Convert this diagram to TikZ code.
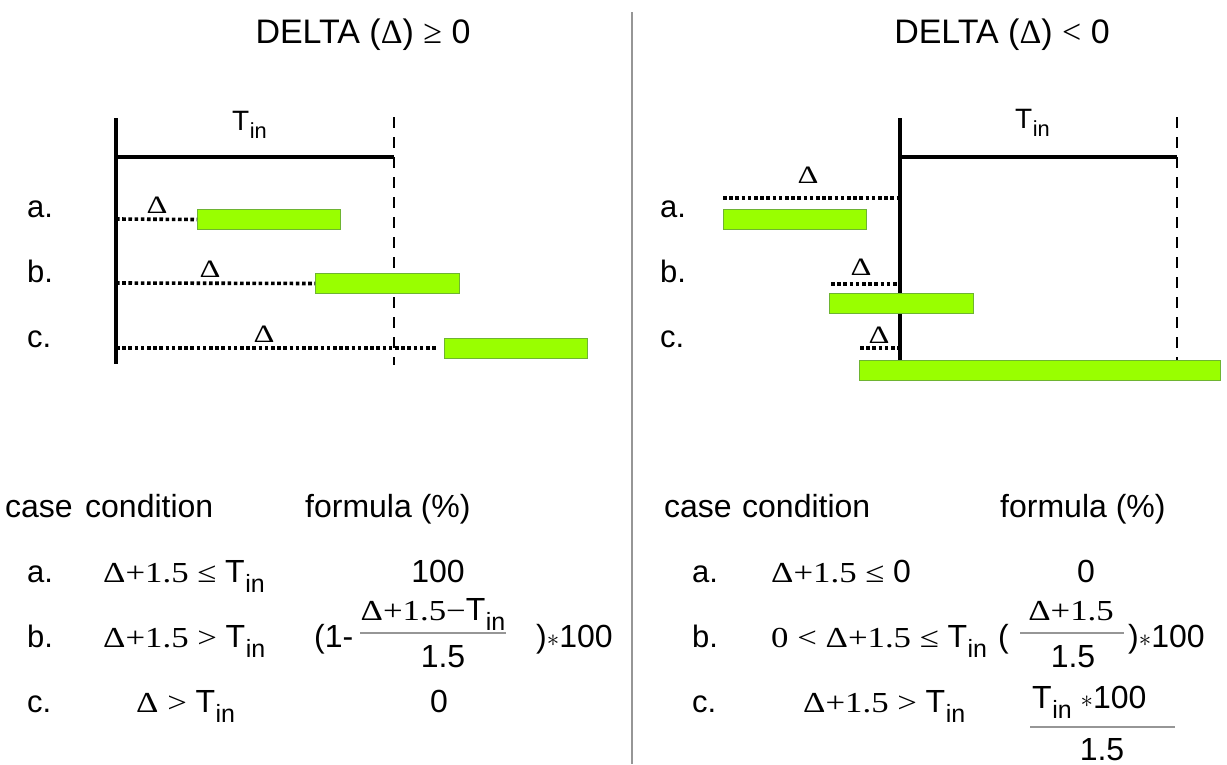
\documentclass[tikz,border=0pt]{standalone}
\usepackage{fontspec}
\setmainfont{Liberation Sans}
\newfontfamily\tms{Liberation Serif}
\newfontfamily\tmw[FakeStretch=1.2]{Liberation Serif}
\newcommand{\Tin}{T\kern0.5pt\raisebox{-0.32em}{\scalebox{0.78}{in}}}
\newcommand{\st}{\raisebox{0.02em}{$\ast$}}
\newcommand{\Dg}{\scalebox{1.3}[1]{Δ}}
\definecolor{barfill}{RGB}{153,255,0}
\definecolor{barline}{RGB}{110,180,50}
\definecolor{sepgray}{RGB}{150,150,150}
\tikzset{
  bar/.style={draw=barline, fill=barfill, line width=1pt, inner sep=0pt, minimum height=20pt, anchor=north west},
  axis/.style={line width=3.2pt},
  tline/.style={line width=3.6pt},
  limit/.style={line width=2.4pt, dash pattern=on 11pt off 9pt},
  dots/.style={line width=3.6pt, dash pattern=on 3.6pt off 2.6pt},
  lbl/.style={anchor=base west, inner sep=0pt, font=\fontsize{31}{36}\selectfont},
  ttl/.style={anchor=base, inner sep=0pt, font=\fontsize{34}{40}\selectfont},
  tinl/.style={anchor=base west, inner sep=0pt, font=\fontsize{28}{34}\selectfont},
  dlt/.style={anchor=base, inner sep=0pt, font=\fontsize{25}{28}\tms},
  hdr/.style={anchor=base west, inner sep=0pt, font=\fontsize{32}{38}\selectfont},
  txt/.style={anchor=base west, inner sep=0pt, font=\fontsize{32}{38}\selectfont},
  ctxt/.style={anchor=base, inner sep=0pt, font=\fontsize{32}{38}\selectfont},
  fbar/.style={line width=1.2pt, draw=sepgray}
}
\begin{document}
\begin{tikzpicture}[x=1pt,y=-1pt]
\useasboundingbox (0,0) rectangle (1227,764);
\fill[white] (0,0) rectangle (1227,764);
% separator
\coordinate (s1) at (632,12); \coordinate (s2) at (632,764);
\draw[sepgray, line width=1.4pt] (s1) -- (s2);
% titles
\node[ttl] (t1) at (363,43) {DELTA ({\tms Δ}) {\tms ≥} 0};
\node[ttl] (t2) at (1002,43) {DELTA ({\tms Δ}) {\tms <} 0};

% ===== left diagram =====
\coordinate (La) at (116,118); \coordinate (Lb) at (116,364);
\coordinate (Lh) at (116,157); \coordinate (Rh) at (394,157);
\coordinate (Da) at (394,117); \coordinate (Db) at (394,365);
\draw[axis] (La) -- (Lb);
\draw[tline] (Lh) -- (Rh);
\draw[limit] (Da) -- (Db);
\node[tinl] (tin1) at (232,130) {\Tin};
\node[lbl] (la) at (27,217) {a.};
\node[lbl] (lb) at (27,282) {b.};
\node[lbl] (lc) at (27,347) {c.};
\node[bar, minimum width=143pt] (ba) at (197,209) {};
\node[bar, minimum width=144pt] (bb) at (315,273) {};
\node[bar, minimum width=143pt] (bc) at (444,338) {};
\coordinate (da0) at (116,219); \coordinate (db0) at (116,283); \coordinate (dc0) at (116,348);
\coordinate (dc1) at (437,348);
\draw[dots] (da0) -- (ba.west);
\draw[dots] (db0) -- (bb.west);
\draw[dots] (dc0) -- (dc1);
\node[dlt] (dla) at (157,213) {\Dg};
\node[dlt] (dlb) at (210,277) {\Dg};
\node[dlt] (dlc) at (264,342) {\Dg};

% ===== right diagram =====
\coordinate (RA) at (900,118); \coordinate (RB) at (900,360);
\coordinate (RHl) at (900,157); \coordinate (RHr) at (1177,157);
\coordinate (RDa) at (1177,117); \coordinate (RDb) at (1177,360);
\draw[axis] (RA) -- (RB);
\draw[tline] (RHl) -- (RHr);
\draw[limit] (RDa) -- (RDb);
\node[tinl] (tin2) at (1015,128) {\Tin};
\node[lbl] (ra) at (660,217) {a.};
\node[lbl] (rb) at (660,282) {b.};
\node[lbl] (rc) at (660,347) {c.};
\node[bar, minimum width=143pt] (rba) at (723,209) {};
\node[bar, minimum width=144pt] (rbb) at (829,293) {};
\node[bar, minimum width=361pt] (rbc) at (859,360) {};
\coordinate (rda0) at (723,198); \coordinate (rda1) at (899,198);
\coordinate (rdb0) at (831,284); \coordinate (rdb1) at (898,284);
\coordinate (rdc0) at (860,348); \coordinate (rdc1) at (899,348);
\draw[dots] (rda0) -- (rda1);
\draw[dots] (rdb0) -- (rdb1);
\draw[dots] (rdc0) -- (rdc1);
\node[dlt] (rdla) at (808,183) {\Dg};
\node[dlt] (rdlb) at (861,275) {\Dg};
\node[dlt] (rdlc) at (879,343) {\Dg};

% ===== left table =====
\node[hdr] (h1) at (5,517) {case};
\node[hdr] (h2) at (85,517) {condition};
\node[hdr] (h3) at (305,517) {formula (\%)};
\node[lbl] (ta) at (27,582) {a.};
\node[lbl] (tb) at (27,647) {b.};
\node[lbl] (tc) at (27,712) {c.};
\node[txt] (ca) at (103,582) {{\tmw\fontsize{29}{34}\selectfont Δ+1.5 ≤ }\Tin};
\node[txt] (cb) at (103,647) {{\tmw\fontsize{29}{34}\selectfont Δ+1.5 > }\Tin};
\node[txt] (cc) at (136,712) {{\tmw\fontsize{29}{34}\selectfont Δ > }\Tin};
\node[ctxt] (fa) at (438,582) {100};
\node[txt] (fb1) at (314,647) {(1-};
\node[ctxt] (fbn) at (433,620) {{\tmw\fontsize{29}{34}\selectfont Δ+1.5−}\Tin};
\coordinate (fbl) at (360,633); \coordinate (fbr) at (506,633);
\draw[fbar] (fbl) -- (fbr);
\node[ctxt] (fbd) at (443,667) {1.5};
\node[txt] (fb2) at (536,647) {)\st100};
\node[ctxt] (fc) at (439,712) {0};

% ===== right table =====
\node[hdr] (g1) at (664,517) {case};
\node[hdr] (g2) at (742,517) {condition};
\node[hdr] (g3) at (1000,517) {formula (\%)};
\node[lbl] (sa) at (692,582) {a.};
\node[lbl] (sb) at (692,647) {b.};
\node[lbl] (sc) at (692,712) {c.};
\node[txt] (ka) at (771,582) {{\tmw\fontsize{29}{34}\selectfont Δ+1.5 ≤ }0};
\node[txt] (kb) at (771,647) {{\tmw\fontsize{29}{34}\selectfont 0 < Δ+1.5 ≤ }\Tin};
\node[txt] (kc) at (803,712) {{\tmw\fontsize{29}{34}\selectfont Δ+1.5 > }\Tin};
\node[ctxt] (ga) at (1086,582) {0};
\node[txt] (gb1) at (998,647) {(};
\node[ctxt] (gbn) at (1071,620) {{\tmw\fontsize{29}{34}\selectfont Δ+1.5}};
\coordinate (gbl) at (1020,633); \coordinate (gbr) at (1124,633);
\draw[fbar] (gbl) -- (gbr);
\node[ctxt] (gbd) at (1073,667) {1.5};
\node[txt] (gb2) at (1128,647) {)\st100};
\node[txt] (gcn) at (1032,708) {\Tin\ \st100};
\coordinate (gcl) at (1030,727); \coordinate (gcr) at (1175,727);
\draw[fbar] (gcl) -- (gcr);
\node[ctxt] (gcd) at (1102,760) {1.5};
\end{tikzpicture}
\end{document}
